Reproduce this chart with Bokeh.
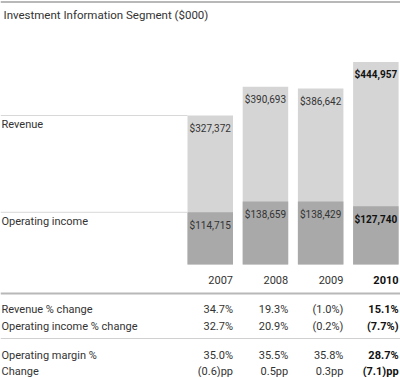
from bokeh.plotting import figure
from bokeh.models import ColumnDataSource, Range1d, Span
from bokeh.core.properties import value
from bokeh.embed import file_html
from bokeh.resources import INLINE

# ---- data ----
years = ["2007", "2008", "2009", "2010"]
revenue = [327372, 390693, 386642, 444957]
op_income = [114715, 138659, 138429, 127740]
rev_change = ["34.7%", "19.3%", "(1.0%)", "15.1%"]
op_change = ["32.7%", "20.9%", "(0.2%)", "(7.7%)"]
op_margin = ["35.0%", "35.5%", "35.8%", "28.7%"]
margin_change = ["(0.6)pp", "0.5pp", "0.3pp", "(7.1)pp"]
title = "Investment Information Segment ($000)"

# ---- layout constants (pixels) ----
W, H = 400, 377
PITCH = 55.2
FIRST_LEFT = 187.0
BAR_PX = 45.5
BASE = 264.0
MONEY_TOP = 580000.0
FONT = value("Roboto")

X0 = -(FIRST_LEFT + BAR_PX / 2) / PITCH
X1 = X0 + W / PITCH
BW = BAR_PX / PITCH

p = figure(width=W, height=H, output_backend="svg", toolbar_location=None,
           x_axis_type=None, y_axis_type=None, min_border=0,
           x_range=Range1d(X0, X1), y_range=Range1d(H, 0))
p.outline_line_color = None
p.background_fill_color = "white"
p.extra_y_ranges = {"money": Range1d(-(H - BASE) * MONEY_TOP / BASE, MONEY_TOP)}

idx = list(range(len(years)))
styles = ["bold" if i == len(years) - 1 else "normal" for i in idx]
colors = ["#111111" if s == "bold" else "#333333" for s in styles]
src = ColumnDataSource(dict(
    x=idx, xr=[i + BW / 2 for i in idx], year=years,
    rev=revenue, op=op_income,
    rev_lbl=[f"${v:,}" for v in revenue], op_lbl=[f"${v:,}" for v in op_income],
    rc=rev_change, oc=op_change, om=op_margin, mc=margin_change,
    style=styles, color=colors,
))

# bars
p.vbar(x="x", top="rev", bottom=0, width=BW, source=src, y_range_name="money",
       fill_color="#d5d5d5", line_color=None)
p.vbar(x="x", top="op", bottom=0, width=BW, source=src, y_range_name="money",
       fill_color="#a9a9a9", line_color=None)

# bar value labels
for col, top in (("rev_lbl", "rev"), ("op_lbl", "op")):
    p.text(x="x", y=top, text=col, source=src, y_range_name="money",
           text_align="center", text_baseline="middle", y_offset=13,
           text_font=FONT, text_font_size="10px", text_font_style="style",
           text_color="color")

# guide lines to the first bar
for v, name in ((revenue[0], "Revenue"), (op_income[0], "Operating income")):
    p.segment(x0=[X0], x1=[-BW / 2], y0=[v], y1=[v], y_range_name="money",
              line_color="#d8d8d8", line_width=1)
    p.text(x=[X0], y=[v], text=[name], y_range_name="money", x_offset=1, y_offset=3,
           text_align="left", text_baseline="top", text_font=FONT,
           text_font_size="11px", text_color="#333333")

# rules
p.add_layout(Span(location=1.5, dimension="width", line_color="#a0a0a0", line_width=1.5))
p.add_layout(Span(location=293, dimension="width", line_color="#b8b8b8", line_width=2))
p.add_layout(Span(location=338, dimension="width", line_color="#d0d0d0", line_width=1))

# title
p.text(x=[X0], y=[14], text=[title], x_offset=3, text_align="left", text_baseline="middle",
       text_font=FONT, text_font_size="11.5px", text_color="#333333")

# table
rows = [(279, None, "year"), (309, "Revenue % change", "rc"),
        (326, "Operating income % change", "oc"), (355, "Operating margin %", "om"),
        (371, "Change", "mc")]
for y, lab, col in rows:
    p.text(x="xr", y=y, text=col, source=src, text_align="right", text_baseline="middle",
           text_font=FONT, text_font_size="11px", text_font_style="style",
           text_color="color")
    if lab:
        p.text(x=[X0], y=[y], text=[lab], x_offset=1, text_align="left",
               text_baseline="middle", text_font=FONT, text_font_size="11px",
               text_color="#333333")

open("out.html", "w").write(file_html(p, INLINE))
